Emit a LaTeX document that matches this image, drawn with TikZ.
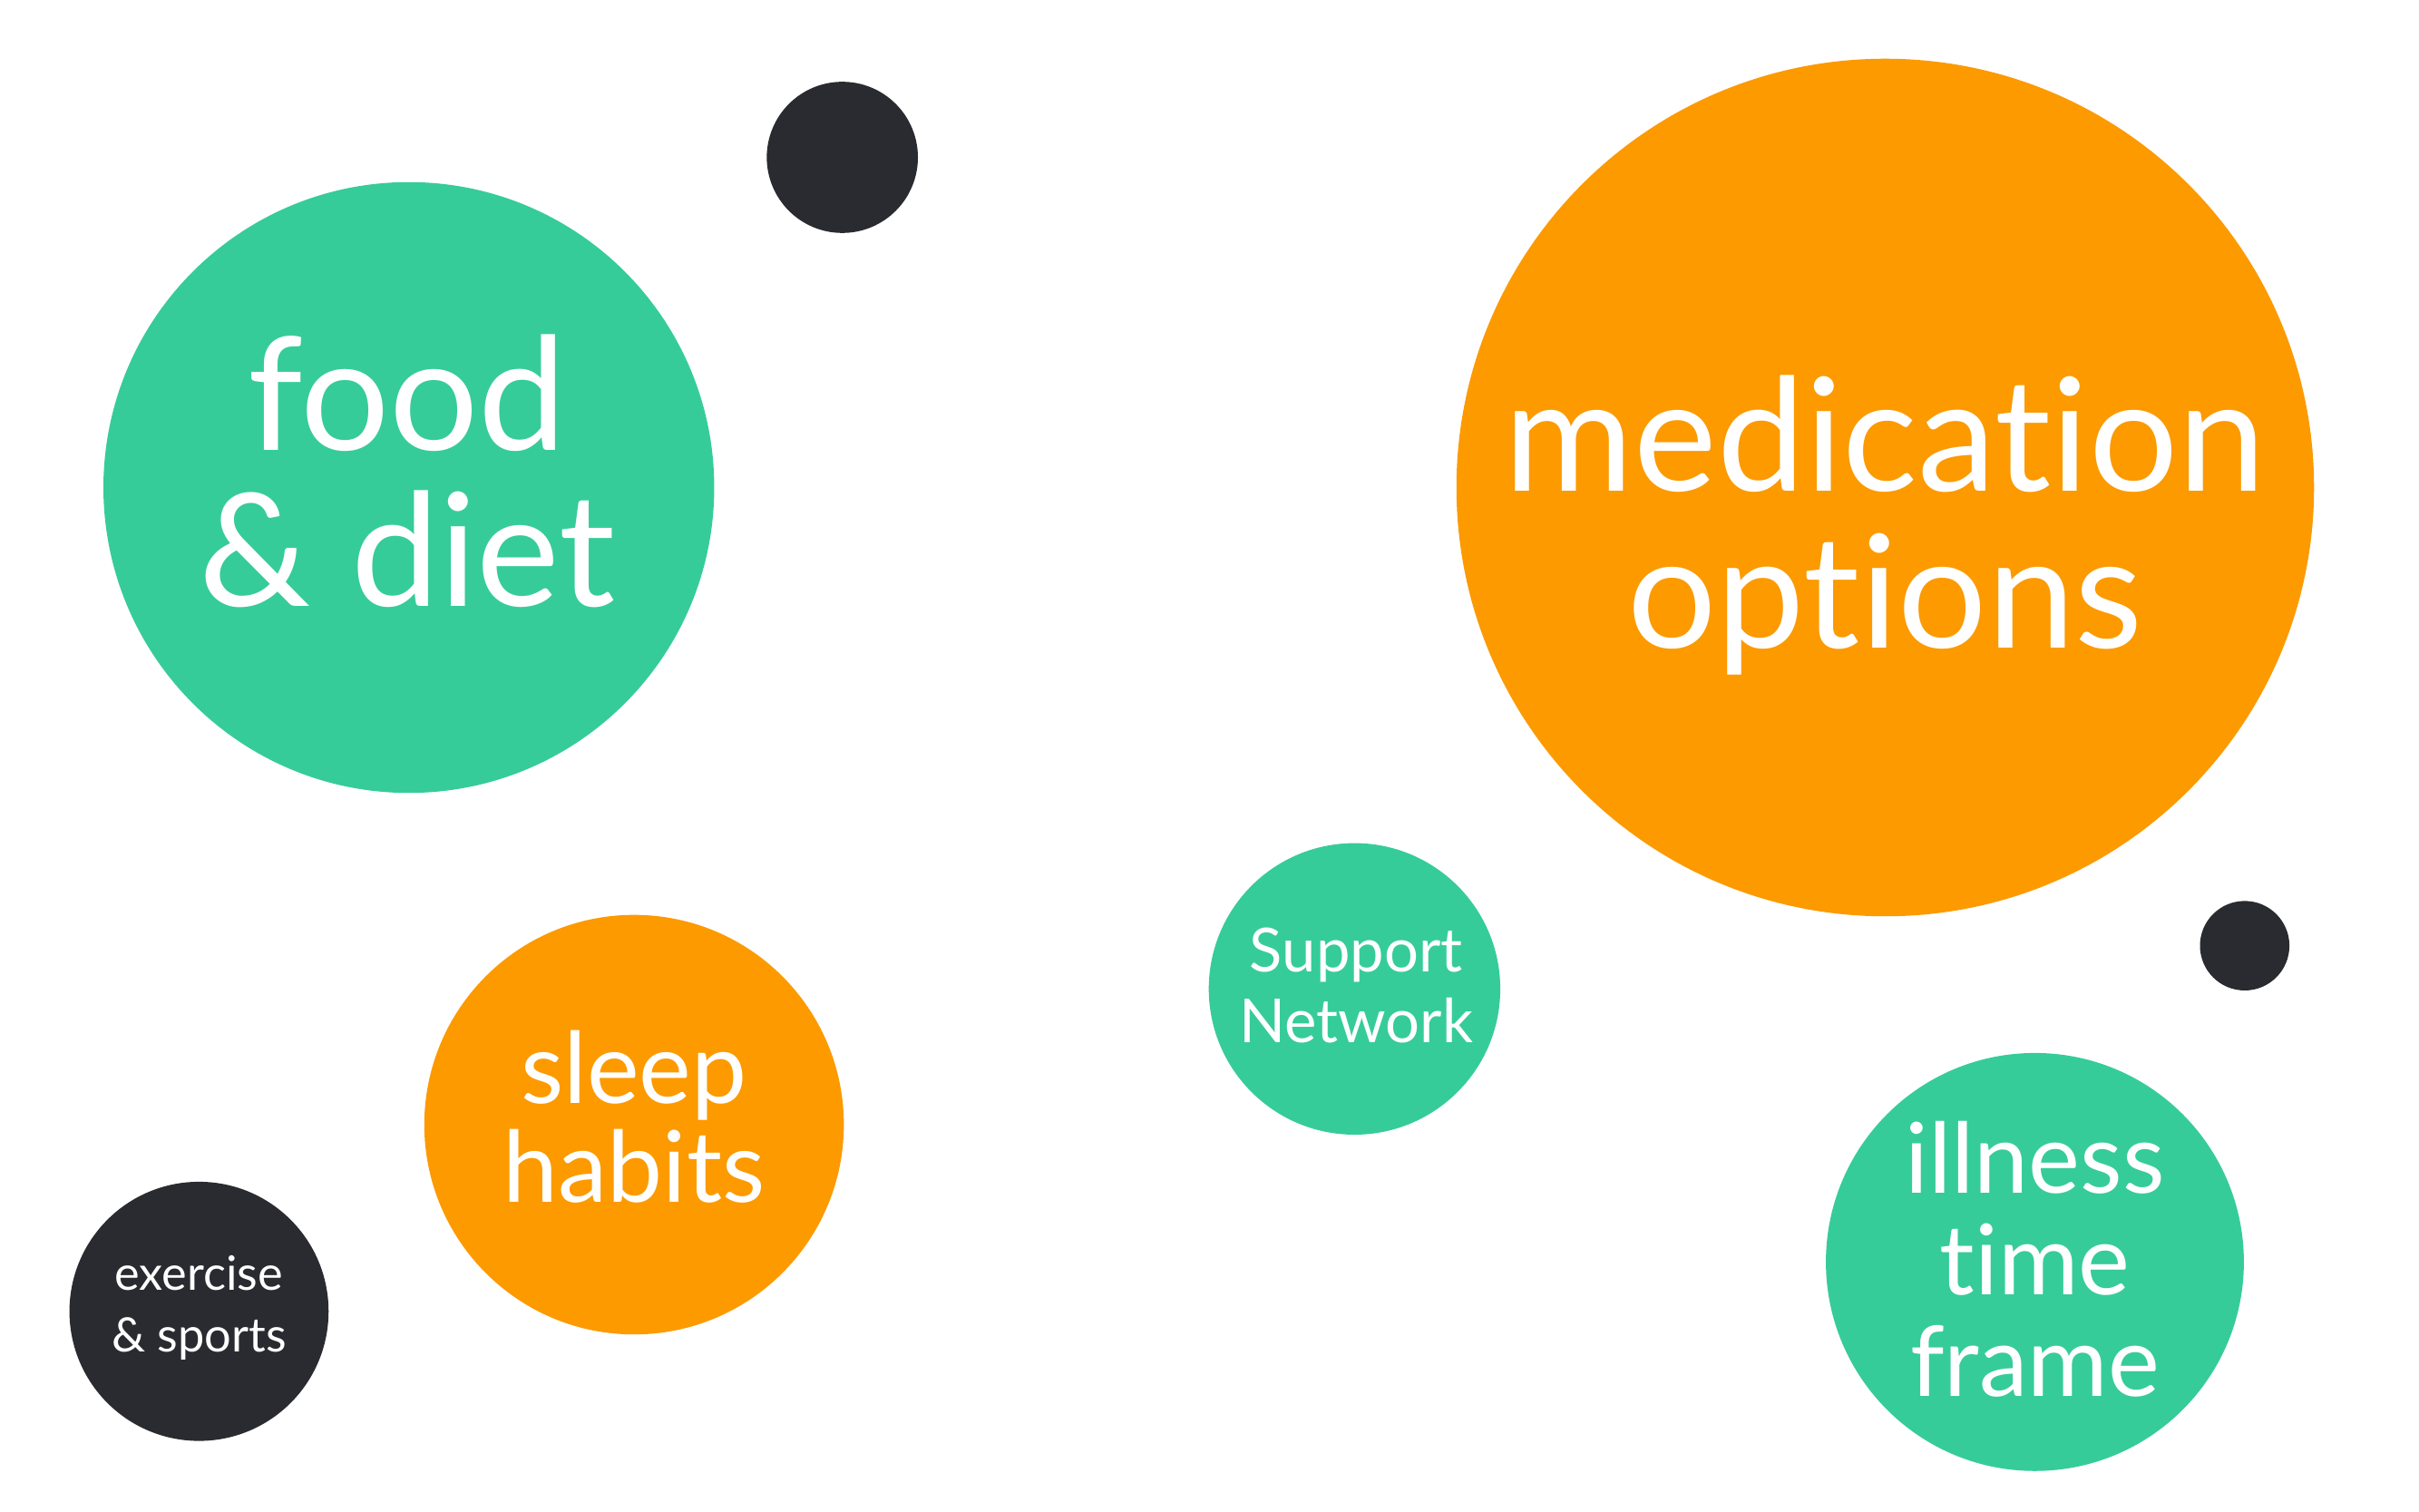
\documentclass[tikz,border=0pt]{standalone}
\usepackage{fontspec}
\setmainfont{Lato}[Ligatures=NoCommon]
\definecolor{vertb}{HTML}{36CC99}
\definecolor{orangeb}{HTML}{FC9A00}
\definecolor{sombre}{HTML}{2A2B30}
\begin{document}
\begin{tikzpicture}[x=0.02cm,y=-0.02cm]
\tikzstyle{bulle} = [circle,inner sep=0pt,draw=none] %fond des bulles
\tikzstyle{texte} = [text=white,align=center,anchor=base,inner sep=0pt] %textes blancs

\useasboundingbox (0,0) rectangle (1568,980);

%les bulles
\node[bulle,fill=vertb,minimum size=7.92cm](food) at (265,316){};
\node[bulle,fill=sombre,minimum size=1.96cm](pointA) at (546,102){};
\node[bulle,fill=orangeb,minimum size=11.12cm](medic) at (1222,316){};
\node[bulle,fill=sombre,minimum size=1.16cm](pointB) at (1455,613){};
\node[bulle,fill=vertb,minimum size=3.78cm](support) at (878,641){};
\node[bulle,fill=orangeb,minimum size=5.44cm](sleep) at (411,729){};
\node[bulle,fill=sombre,minimum size=3.36cm](sport) at (129,850){};
\node[bulle,fill=vertb,minimum size=5.42cm](illness) at (1319,818){};

%les textes (ancre sur la derniere ligne)
\node[texte,font=\fontsize{58}{57.4}\selectfont](tfood) at (264,393){food\\\& diet};
\node[texte,font=\fontsize{58}{58}\selectfont](tmedic) at (1222,420){medication\\options};
\node[texte,font=\fontsize{22.4}{26.2}\selectfont](tsupport) at (879,676){Support\\Network};
\node[texte,font=\fontsize{36.5}{36.4}\selectfont](tsleep) at (411,779){sleep\\habits};
\node[texte,font=\fontsize{17.5}{22.7}\selectfont](tsport) at (129,876){exercise\\\& sports};
\node[texte,font=\fontsize{36}{37.5}\selectfont](tillness) at (1319,905){illness\\time\\frame};
\end{tikzpicture}
\end{document}
